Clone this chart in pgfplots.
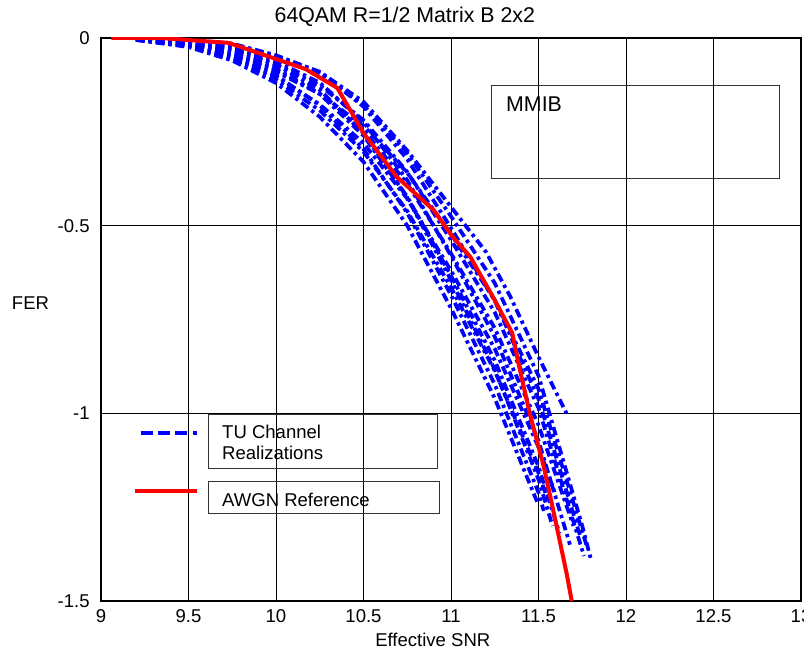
\documentclass[border=0pt]{standalone}
\usepackage{pgfplots}
\pgfplotsset{compat=1.18}
\usepackage{fontspec}
\setmainfont{Liberation Sans}
\begin{document}
\begin{tikzpicture}
\begin{axis}[
  at={(0,0)}, anchor=south west,
  scale only axis, width=525pt, height=422.25pt,
  xmin=9, xmax=13, ymin=-1.5, ymax=0,
  xtick={9,9.5,10,10.5,11,11.5,12,12.5,13},
  xticklabels={9,9.5,10,10.5,11,11.5,12,12.5,13},
  ytick={-1.5,-1,-0.5,0},
  yticklabels={-1.5,-1,-0.5,0},
  grid=major, major grid style={black, line width=0.6pt},
  major tick length=0pt,
  axis line style={black, line width=0.8pt},
  font=\fontsize{13.9}{16}\selectfont,
  tick label style={font=\fontsize{13.9}{16}\selectfont},
  xticklabel style={yshift=-3pt},
  yticklabel style={xshift=-5pt},
  every axis title shift=0pt,
  title={64QAM R=1/2 Matrix B 2x2},
  title style={at={(axis description cs:0.434,1.037)}, anchor=center, font=\fontsize{16}{19}\selectfont},
  xlabel={Effective SNR},
  xlabel style={at={(axis description cs:0.474,-0.069)}, anchor=center},
  ylabel={FER},
  ylabel style={at={(axis description cs:-0.1007,0.529)}, anchor=center, rotate=-90},
  tu/.style={blue, line width=2.8pt, dash pattern=on 6.5pt off 3pt on 2.5pt off 3pt, line join=round},
]
\addplot[tu] coordinates {(9.2,-0.005)(9.5,-0.024)(9.75,-0.060)(10.0,-0.120)(10.25,-0.210)(10.5,-0.330)(10.75,-0.500)(11.0,-0.720)(11.25,-0.960)(11.5,-1.245)};
\addplot[tu] coordinates {(9.2,-0.004)(9.5,-0.018)(9.75,-0.047)(10.0,-0.099)(10.25,-0.179)(10.5,-0.296)(10.75,-0.466)(11.0,-0.685)(11.25,-0.923)(11.5,-1.211)(11.53,-1.26)};
\addplot[tu] coordinates {(9.2,-0.005)(9.5,-0.022)(9.75,-0.056)(10.0,-0.111)(10.25,-0.193)(10.5,-0.303)(10.75,-0.461)(11.0,-0.665)(11.25,-0.887)(11.5,-1.159)(11.56,-1.24)};
\addplot[tu] coordinates {(9.2,-0.004)(9.5,-0.014)(9.75,-0.035)(10.0,-0.081)(10.25,-0.149)(10.5,-0.260)(10.75,-0.423)(11.0,-0.633)(11.25,-0.859)(11.5,-1.142)(11.62,-1.32)};
\addplot[tu] coordinates {(9.2,-0.005)(9.5,-0.020)(9.75,-0.051)(10.0,-0.103)(10.25,-0.177)(10.5,-0.280)(10.75,-0.428)(11.0,-0.620)(11.25,-0.828)(11.5,-1.090)(11.6,-1.22)};
\addplot[tu] coordinates {(9.2,-0.003)(9.5,-0.009)(9.75,-0.024)(10.0,-0.062)(10.25,-0.119)(10.5,-0.224)(10.75,-0.379)(11.0,-0.580)(11.25,-0.796)(11.5,-1.073)(11.68,-1.35)};
\addplot[tu] coordinates {(9.2,-0.004)(9.5,-0.015)(9.75,-0.040)(10.0,-0.085)(10.25,-0.148)(10.5,-0.246)(10.75,-0.388)(11.0,-0.574)(11.25,-0.773)(11.5,-1.031)(11.7,-1.30)};
\addplot[tu] coordinates {(9.2,-0.004)(9.5,-0.012)(9.75,-0.031)(10.0,-0.071)(10.25,-0.126)(10.5,-0.219)(10.75,-0.357)(11.0,-0.538)(11.25,-0.731)(11.5,-0.986)(11.76,-1.38)};
\addplot[tu] coordinates {(9.2,-0.003)(9.5,-0.005)(9.75,-0.015)(10.0,-0.046)(10.25,-0.091)(10.5,-0.183)(10.75,-0.323)(11.0,-0.506)(11.25,-0.700)(11.5,-0.962)(11.74,-1.33)};
\addplot[tu] coordinates {(9.2,-0.003)(9.5,-0.007)(9.75,-0.020)(10.0,-0.052)(10.25,-0.094)(10.5,-0.179)(10.75,-0.307)(11.0,-0.475)(11.25,-0.653)(11.5,-0.900)(11.75,-1.30)(11.8,-1.39)};
\addplot[tu] coordinates {(9.2,-0.004)(9.5,-0.017)(9.75,-0.044)(10.0,-0.090)(10.25,-0.149)(10.5,-0.234)(10.75,-0.359)(11.0,-0.523)(11.25,-0.698)(11.5,-0.935)(11.78,-1.36)};
\addplot[tu] coordinates {(9.2,-0.004)(9.5,-0.011)(9.75,-0.029)(10.0,-0.071)(10.25,-0.138)(10.5,-0.254)(10.75,-0.425)(11.0,-0.645)(11.25,-0.883)(11.5,-1.176)(11.58,-1.30)};
\addplot[tu] coordinates {(9.2,-0.003)(9.5,-0.005)(9.75,-0.017)(10.0,-0.048)(10.25,-0.090)(10.5,-0.170)(10.75,-0.300)(11.0,-0.450)(11.2,-0.570)(11.34,-0.690)(11.5,-0.850)(11.66,-1.0)};
\addplot[red, line width=3pt, line join=round] coordinates {(9.06,0)(9.34,0)(9.73,-0.013)(10.17,-0.083)(10.35,-0.133)(10.50,-0.253)(10.69,-0.370)(10.90,-0.458)(11.01,-0.530)(11.11,-0.583)(11.24,-0.690)(11.35,-0.786)(11.39,-0.876)(11.45,-1.0)(11.53,-1.142)(11.58,-1.249)(11.66,-1.425)(11.69,-1.5)};
% legend and annotation boxes
\draw[black!80, line width=0.6pt] (axis cs:9.611,-1.004) rectangle (axis cs:10.921,-1.146);
\draw[black!80, line width=0.6pt] (axis cs:9.613,-1.181) rectangle (axis cs:10.933,-1.266);
\draw[black!80, line width=0.6pt] (axis cs:11.229,-0.127) rectangle (axis cs:12.874,-0.374);
\draw[blue, line width=3pt, dash pattern=on 9pt off 4pt] (axis cs:9.226,-1.052) -- (axis cs:9.546,-1.052);
\draw[red, line width=3pt] (axis cs:9.194,-1.207) -- (axis cs:9.546,-1.207);
\node[anchor=base west, inner sep=0pt] at (axis cs:9.691,-1.068) {TU Channel};
\node[anchor=base west, inner sep=0pt] at (axis cs:9.691,-1.122) {Realizations};
\node[anchor=base west, inner sep=0pt] at (axis cs:9.691,-1.247) {AWGN Reference};
\node[anchor=base west, inner sep=0pt, font=\fontsize{16}{19}\selectfont] at (axis cs:11.314,-0.197) {MMIB};
\end{axis}
\pgfresetboundingbox
\useasboundingbox (-75.75pt,-39.75pt) rectangle (527.25pt,450.75pt);
\end{tikzpicture}
\end{document}
